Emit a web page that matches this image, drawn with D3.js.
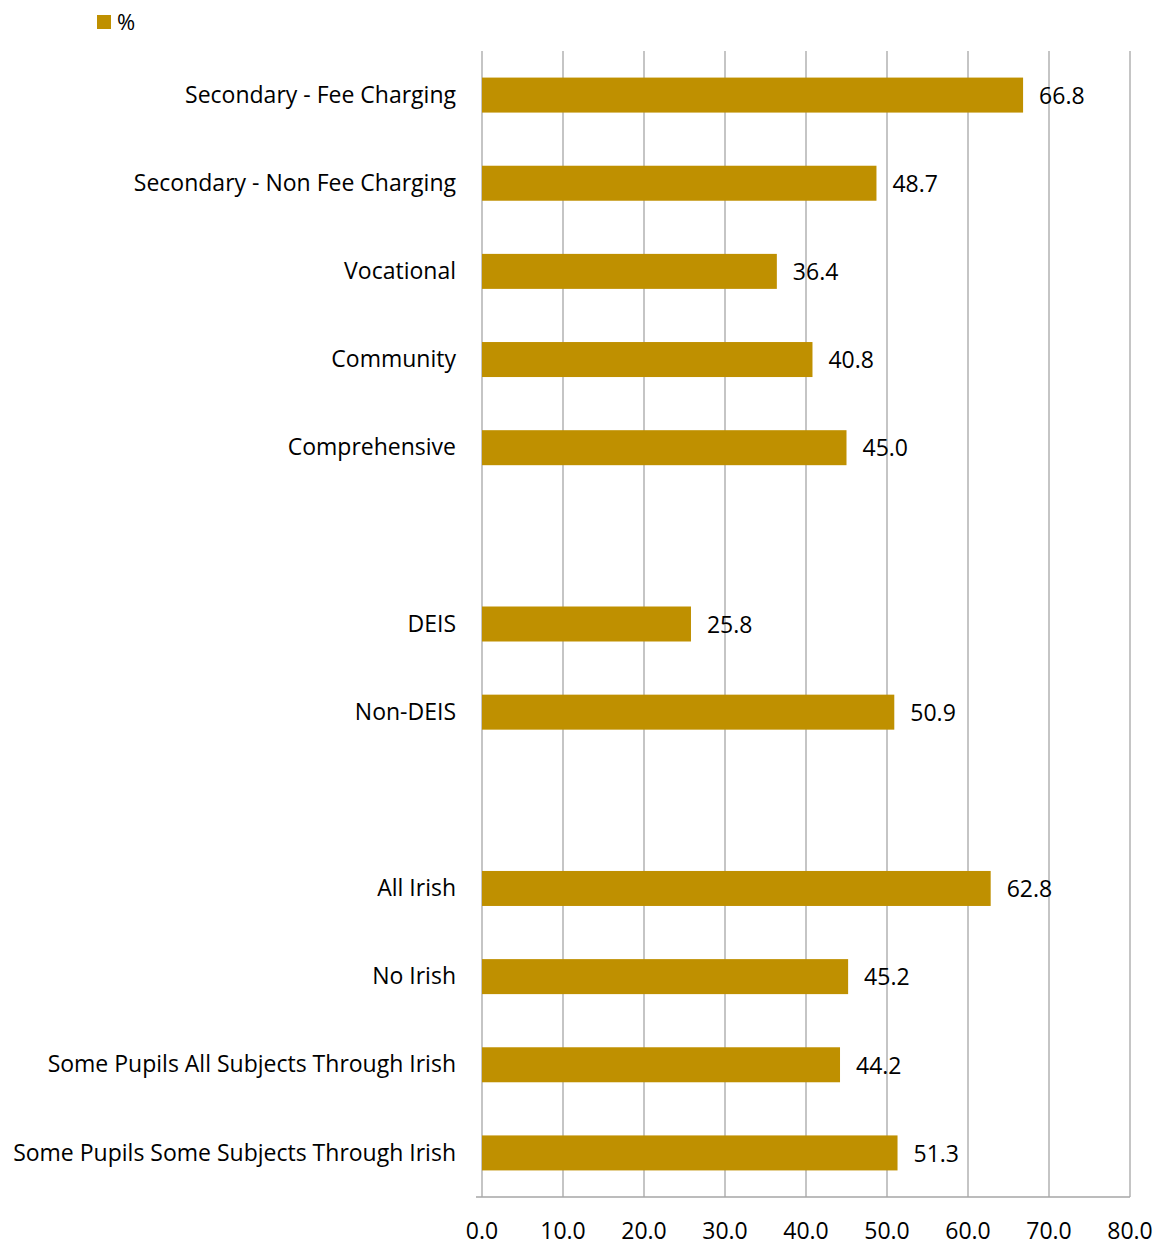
<!DOCTYPE html>
<html>
<head>
<meta charset="utf-8">
<script src="https://cdn.jsdelivr.net/npm/d3@7"></script>
<style>
  body { margin: 0; background: #fff; }
  text { font-family: "Open Sans", sans-serif; fill: #000; }
</style>
</head>
<body>
<svg id="chart" width="1163" height="1246"></svg>
<script>
// categories top to bottom, blank slots are the spacer rows
var categories = [
  "Secondary - Fee Charging",
  "Secondary - Non Fee Charging",
  "Vocational",
  "Community",
  "Comprehensive",
  "",
  "DEIS",
  "Non-DEIS",
  " ",
  "All Irish",
  "No Irish",
  "Some Pupils All Subjects Through Irish",
  "Some Pupils Some Subjects Through Irish"
];
var values = [66.8, 48.7, 36.4, 40.8, 45.0, null, 25.8, 50.9, null, 62.8, 45.2, 44.2, 51.3];
var ticks = [0, 10, 20, 30, 40, 50, 60, 70, 80];
var seriesName = "%";

var svg = d3.select("#chart");
var margin = {left: 482, right: 33, top: 51, bottom: 49};
var width = 1163 - margin.left - margin.right,
    height = 1246 - margin.top - margin.bottom;

var x = d3.scaleLinear().domain([0, 80]).range([0, width]);
var y = d3.scaleBand().domain(categories).range([0, height]).paddingInner(0.6).paddingOuter(0.3);

var g = svg.append("g").attr("transform", "translate(" + margin.left + "," + margin.top + ")");

// grid lines
g.selectAll(".grid").data(ticks).enter().append("line")
  .attr("x1", function(d) { return x(d); })
  .attr("x2", function(d) { return x(d); })
  .attr("y1", 0).attr("y2", height)
  .attr("stroke", "#a6a6a6").attr("stroke-width", 1.3);

// bottom axis line
g.append("line")
  .attr("x1", -6).attr("x2", width)
  .attr("y1", height).attr("y2", height)
  .attr("stroke", "#a6a6a6").attr("stroke-width", 1.3);

// x tick labels
g.selectAll(".xt").data(ticks).enter().append("text")
  .attr("x", function(d) { return x(d); })
  .attr("y", height + 42)
  .attr("text-anchor", "middle")
  .style("font-size", "23px")
  .text(function(d) { return d.toFixed(1); });

var rows = categories.map(function(c, i) { return {cat: c, v: values[i]}; });

// bars
g.selectAll(".bar").data(rows.filter(function(d) { return d.v != null; })).enter().append("rect")
  .attr("x", x(0))
  .attr("y", function(d) { return y(d.cat) + y.bandwidth() / 2 - 17.5; })
  .attr("width", function(d) { return x(d.v) - x(0); })
  .attr("height", 35)
  .attr("fill", "#bf9000");

// value labels
g.selectAll(".val").data(rows.filter(function(d) { return d.v != null; })).enter().append("text")
  .attr("x", function(d) { return x(d.v) + 16; })
  .attr("y", function(d) { return y(d.cat) + y.bandwidth() / 2; })
  .attr("dy", "0.38em")
  .style("font-size", "23px")
  .text(function(d) { return d.v.toFixed(1); });

// category labels
g.selectAll(".cat").data(rows.filter(function(d) { return d.cat.trim() != ""; })).enter().append("text")
  .attr("x", -26)
  .attr("y", function(d) { return y(d.cat) + y.bandwidth() / 2; })
  .attr("dy", "0.33em")
  .attr("text-anchor", "end")
  .style("font-size", "23px")
  .text(function(d) { return d.cat; });

// legend
svg.append("rect").attr("x", 97).attr("y", 15).attr("width", 14).attr("height", 14).attr("fill", "#bf9000");
svg.append("text").attr("x", 117).attr("y", 30).style("font-size", "22px").text(seriesName);
</script>
</body>
</html>
